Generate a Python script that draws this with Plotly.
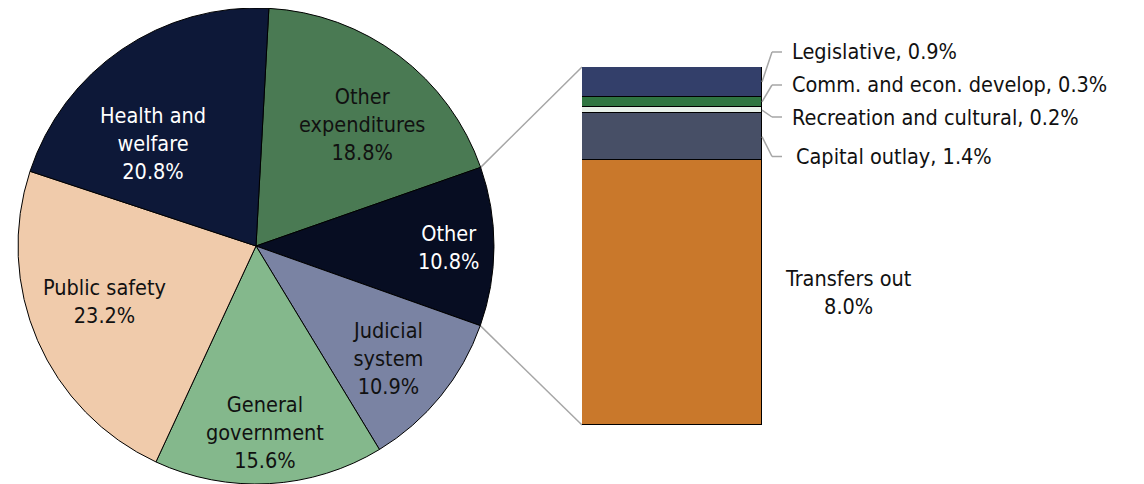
import math
import plotly.graph_objects as go

# ---------------- data ----------------
pie_labels = ["Other expenditures", "Other", "Judicial system", "General government",
              "Public safety", "Health and welfare"]
pie_values = [18.8, 10.8, 10.9, 15.6, 23.2, 20.8]
pie_colors = ["#4a7a53", "#070d22", "#7a83a3", "#84b88c", "#f0cbab", "#0d1838"]
pie_text_lines = ["Other<br>expenditures<br>18.8%", "Other<br>10.8%", "Judicial<br>system<br>10.9%",
                  "General<br>government<br>15.6%", "Public safety<br>23.2%",
                  "Health and<br>welfare<br>20.8%"]
pie_text_colors = ["#111111", "white", "#111111", "#111111", "#111111", "white"]

bar_labels = ["Transfers out", "Capital outlay", "Recreation and cultural",
              "Comm. and econ. develop", "Legislative"]
bar_values = [8.0, 1.4, 0.2, 0.3, 0.9]
bar_colors = ["#c9782b", "#474f66", "#e6efe8", "#2f7541", "#333f6a"]

# ---------------- layout constants ----------------
OFF = 8                            # page body margin
W, H = 1144 - OFF, 484 - OFF
FONT = "DejaVu Sans Condensed, DejaVu Sans, sans-serif"
FS = 21.5
ROT = 3.1
CX, CY, R = 256, 246, 238          # pie centre / radius in screen pixels
BAR_X0, BAR_X1 = 582, 762          # bar pixel extents
BAR_TOP, BAR_BOT = 67, 425

def px(x):
    return (x - OFF) / W

def py(y):
    return 1 - (y - OFF) / H

fig = go.Figure()

fig.add_trace(go.Pie(
    labels=pie_labels, values=pie_values, sort=False, direction="clockwise",
    rotation=ROT, textinfo="none", hoverinfo="label+value",
    marker=dict(colors=pie_colors, line=dict(color="black", width=1)),
    domain=dict(x=[px(CX - R), px(CX + R)], y=[max(0, py(CY + R)), min(1, py(CY - R))]),
    showlegend=False,
))

for lab, val, col in zip(bar_labels, bar_values, bar_colors):
    fig.add_trace(go.Bar(
        x=[0], y=[val], name=lab, width=1, marker=dict(color=col, line=dict(color="black", width=1.2)),
        showlegend=False, xaxis="x", yaxis="y",
    ))

total_bar = sum(bar_values)
ydom = [py(BAR_BOT), py(BAR_TOP)]

def bar_y_paper(v):
    return ydom[0] + v / total_bar * (ydom[1] - ydom[0])

# pie labels (positions as layout constants)
label_pos = [(362, 124), (448, 247), (388, 358), (265, 432), (104, 301), (153, 143)]
annotations = []
for txt, col, (lx, ly) in zip(pie_text_lines, pie_text_colors, label_pos):
    annotations.append(dict(x=px(lx), y=py(ly), xref="paper", yref="paper", text=txt,
                            showarrow=False, font=dict(family=FONT, size=FS, color=col),
                            align="center", xanchor="center", yanchor="middle"))

# bar labels
cum = 0
mids = []
for v in bar_values:
    mids.append(cum + v / 2)
    cum += v

annotations.append(dict(x=px(848), y=bar_y_paper(mids[0]), xref="paper", yref="paper",
                        text=f"{bar_labels[0]}<br>{bar_values[0]:.1f}%", showarrow=False,
                        font=dict(family=FONT, size=FS, color="#111111"), align="center",
                        xanchor="center", yanchor="middle"))

small_label_y = {1: 156.5, 2: 117.5, 3: 85, 4: 51.5}
small_label_x = {1: 794, 2: 790, 3: 790, 4: 790}
small_knee_y = {1: 156.5, 2: 117, 3: 85, 4: 52}
shapes = []
for i in [1, 2, 3, 4]:
    annotations.append(dict(x=px(small_label_x[i]), y=py(small_label_y[i]), xref="paper", yref="paper",
                            text=f"{bar_labels[i]}, {bar_values[i]:.1f}%", showarrow=False,
                            font=dict(family=FONT, size=FS, color="#111111"),
                            xanchor="left", yanchor="middle"))
    y0 = bar_y_paper(mids[i])
    ky = py(small_knee_y[i])
    shapes.append(dict(type="line", xref="paper", yref="paper", x0=px(BAR_X1), y0=y0,
                       x1=px(772), y1=ky, line=dict(color="#a6a6a6", width=1.5)))
    shapes.append(dict(type="line", xref="paper", yref="paper", x0=px(772), y0=ky,
                       x1=px(782), y1=ky, line=dict(color="#a6a6a6", width=1.5)))

# connector lines from the "Other" slice edges to the bar
deg_per = 360 / sum(pie_values)
a_start = math.radians(ROT + pie_values[0] * deg_per)
a_end = math.radians(ROT + (pie_values[0] + pie_values[1]) * deg_per)
for ang, yb in [(a_start, total_bar), (a_end, 0)]:
    x0 = CX + R * math.sin(ang)
    y0 = CY - R * math.cos(ang)
    shapes.append(dict(type="line", xref="paper", yref="paper", x0=px(x0), y0=py(y0),
                       x1=px(BAR_X0), y1=bar_y_paper(yb), line=dict(color="#a6a6a6", width=1.5),
                       layer="below"))

fig.update_layout(
    width=W, height=H, margin=dict(l=0, r=0, t=0, b=0),
    paper_bgcolor="white", plot_bgcolor="rgba(0,0,0,0)",
    barmode="stack", bargap=0,
    xaxis=dict(domain=[px(BAR_X0), px(BAR_X1)], range=[-0.5, 0.5], visible=False, fixedrange=True),
    yaxis=dict(domain=ydom, range=[0, total_bar], visible=False, fixedrange=True),
    annotations=annotations, shapes=shapes,
    font=dict(family=FONT, size=FS),
)

fig.write_html("out.html")
